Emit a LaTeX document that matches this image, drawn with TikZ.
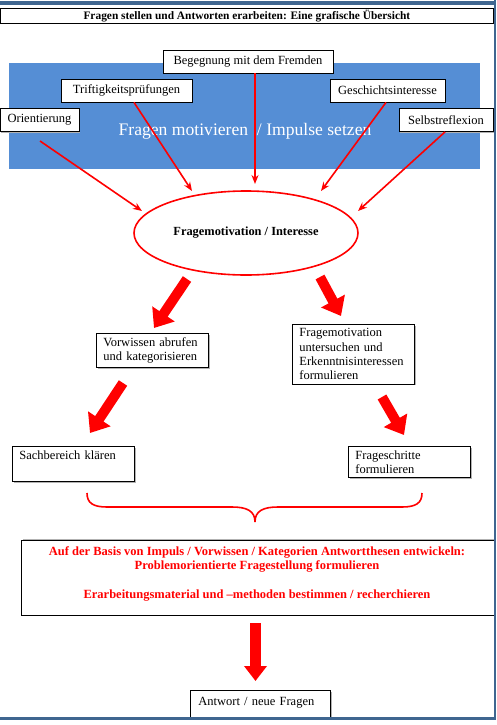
\documentclass[tikz,border=0pt]{standalone}
\usepackage{fontspec}
\setmainfont{Liberation Serif}
\usetikzlibrary{arrows.meta,shapes.geometric,shadows}
\definecolor{bluefill}{RGB}{85,142,213}
\definecolor{framec}{RGB}{63,102,144}
\definecolor{redc}{RGB}{255,0,0}
\begin{document}
\begin{tikzpicture}[x=1pt,y=-1pt,
  txt/.style={font=\fontsize{12.5}{14.4}\selectfont},
  smallbox/.style={draw=black, line width=0.8pt, fill=white, txt, inner xsep=6pt, inner ysep=0pt,
     minimum height=23pt, general shadow={fill=gray!60, shadow xshift=1.2pt, shadow yshift=-1.2pt}},
  stepbox/.style={draw=black, line width=0.8pt, fill=white, txt, align=left, inner xsep=7pt, inner ysep=4pt,
     anchor=north west, general shadow={fill=gray!60, shadow xshift=1.2pt, shadow yshift=-1.2pt}},
  thinarrow/.style={draw=redc, line width=1.6pt, -{Stealth[length=9pt,width=7pt]}},
  blockarrow/.style={draw=redc, line width=10pt, -{Triangle[length=17pt,width=26pt]}},
]
\useasboundingbox (0,0) rectangle (496,725);
\fill[white] (0,0) rectangle (496,725);

% title
\node[draw=black, line width=0.8pt, fill=white, minimum width=493pt, minimum height=15pt, inner sep=0pt,
      anchor=north west, font=\bfseries\fontsize{11.4}{12}\selectfont] (title) at (0,8)
      {Fragen stellen und Antworten erarbeiten: Eine grafische Übersicht};

% blue area
\node[fill=bluefill, minimum width=471pt, minimum height=106pt, inner sep=0pt, anchor=north west] (impulse) at (9,63) {};
\node[text=white, font=\fontsize{17.6}{20}\selectfont, inner sep=0pt] (impulsetext) at (245,131) {Fragen motivieren ~/ Impulse setzen};

% small boxes
\node[smallbox, minimum width=170pt] (beg) at (248,61.5) {Begegnung mit dem Fremden};
\node[smallbox, minimum width=131pt] (trif) at (126.5,90.5) {Triftigkeitsprüfungen};
\node[smallbox, minimum width=115pt] (gesch) at (387.5,90.5) {Geschichtsinteresse};
\node[smallbox, minimum width=79pt] (orient) at (39.5,120) {Orientierung};
\node[smallbox, minimum width=94pt] (selbst) at (446,120) {Selbstreflexion};

% ellipse
\node[ellipse, draw=redc, line width=1.6pt, fill=white, minimum width=224pt, minimum height=84pt,
      font=\bfseries\fontsize{12.4}{14.4}\selectfont] (mot) at (246,233) {Fragemotivation / Interesse\\[6pt]};

% thin arrows
\coordinate (t1) at (255,184);
\coordinate (t2) at (192,191);
\coordinate (t3) at (321,191);
\coordinate (t4) at (142,211);
\coordinate (t5) at (358,211);
\coordinate (s4) at (40,141);
\draw[thinarrow] ([xshift=7pt]beg.south) -- (t1);
\draw[thinarrow] ([xshift=7.5pt]trif.south) -- (t2);
\draw[thinarrow] ([xshift=-1.5pt]gesch.south) -- (t3);
\draw[thinarrow] (s4) -- (t4);
\draw[thinarrow] ([xshift=-1pt]selbst.south) -- (t5);

% step boxes
\node[stepbox, text width=98pt] (vor) at (96,333) {Vorwissen abrufen\\und kategorisieren};
\node[stepbox, text width=108pt] (frag) at (292,324) {Fragemotivation\\untersuchen und\\Erkenntnisinteressen\\formulieren};
\node[stepbox, text width=108pt] (sach) at (12,446) {Sachbereich klären\\\strut};
\node[stepbox, text width=108pt] (schr) at (348,446) {Frageschritte\\formulieren};

% block arrows
\coordinate (a1s) at (187,279); \coordinate (a1e) at (154,328);
\coordinate (a2s) at (320,277); \coordinate (a2e) at (341,316);
\coordinate (a3s) at (123,383); \coordinate (a3e) at (90,433);
\coordinate (a4s) at (382,397); \coordinate (a4e) at (404,435);
\draw[blockarrow] (a1s) -- (a1e);
\draw[blockarrow] (a2s) -- (a2e);
\draw[blockarrow] (a3s) -- (a3e);
\draw[blockarrow] (a4s) -- (a4e);

% brace
\draw[redc, line width=1.6pt] (87,493) .. controls (87,503) and (93,507) .. (107,507) -- (232,507)
   .. controls (247,507) and (255,511) .. (255,522) .. controls (255,511) and (263,507) .. (278,507)
   -- (402,507) .. controls (416,507) and (422,503) .. (422,493);

% big box
\node[draw=black, line width=0.8pt, fill=white, minimum width=473pt, minimum height=75pt, anchor=north west,
      general shadow={fill=gray!60, shadow xshift=1.2pt, shadow yshift=1.2pt}] (big) at (21,540) {};
\node[text=redc, align=center, font=\bfseries\fontsize{12.5}{14.4}\selectfont, anchor=north, inner sep=0pt] (bigtext) at (257,546)
  {Auf der Basis von Impuls / Vorwissen / Kategorien Antwortthesen entwickeln:\\
   Problemorientierte Fragestellung formulieren\\[14.4pt]
   Erarbeitungsmaterial und –methoden bestimmen / recherchieren};

% final arrow
\coordinate (a5s) at (255.5,623); \coordinate (a5e) at (255.5,681);
\draw[draw=redc, line width=11pt, -{Triangle[length=15pt,width=22pt]}] (a5s) -- (a5e);

% answer box
\node[draw=black, line width=0.8pt, fill=white, minimum width=140pt, anchor=north west,
      txt, inner xsep=8pt, text width=124pt, align=left, inner ysep=2pt, text height=13pt, text depth=10pt,
      general shadow={fill=gray!60, shadow xshift=1.2pt, shadow yshift=-1.2pt}] (ant) at (190,690) {Antwort / neue Fragen};

% frame
\fill[framec] (0,1.5) rectangle (496,5.5);
\fill[framec] (493.5,0) rectangle (496,720);
\fill[framec] (0,717) rectangle (496,720);
\end{tikzpicture}
\end{document}
